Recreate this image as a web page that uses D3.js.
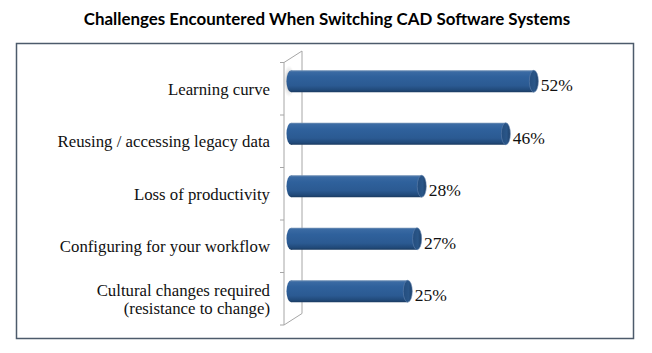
<!DOCTYPE html>
<html>
<head>
<meta charset="utf-8">
<script src="https://cdn.jsdelivr.net/npm/d3@7"></script>
<style>
  html, body { margin: 0; padding: 0; background: #ffffff; }
  svg { display: block; }
  .serif { font-family: "Liberation Serif", "Times New Roman", Times, serif; }
</style>
</head>
<body>
<svg id="chart" width="652" height="353"></svg>
<script>
const title = "Challenges Encountered When Switching CAD Software Systems";
const categories = [
  ["Learning curve"],
  ["Reusing / accessing legacy data"],
  ["Loss of productivity"],
  ["Configuring for your workflow"],
  ["Cultural changes required", "(resistance to change)"]
];
const values = [52, 46, 28, 27, 25];
const valueLabels = ["52%", "46%", "28%", "27%", "25%"];

(function () {
const svg = d3.select("#chart");

svg.append("rect")
  .attr("x", 16.5).attr("y", 43.5)
  .attr("width", 617).attr("height", 295)
  .attr("fill", "#fff")
  .attr("stroke", "#4d5b6b")
  .attr("stroke-width", 1.5);

const t = svg.append("text")
  .attr("x", 327).attr("y", 24.5)
  .attr("text-anchor", "middle")
  .style("font-family", "Lato, 'Open Sans', sans-serif")
  .attr("font-weight", "bold")
  .attr("font-size", 15)
  .attr("fill", "#000")
  .text(title);
const tl = t.node().getComputedTextLength();
t.attr("font-size", 15 * 487 / tl);

const idx = categories.map((d, i) => i);
const y = d3.scaleBand().domain(idx).range([62.5, 325]);
const x = d3.scaleLinear().domain([0, 60]).range([291, 291 + 4.67 * 60]);

const fx = 284, bx = 302, ddy = -11.5;
const yTop = y.range()[0], yBot = y.range()[1];
const g = svg.append("g").attr("stroke", "#a6a6a6").attr("stroke-width", 1).attr("fill", "none");
g.append("line").attr("x1", fx).attr("x2", fx).attr("y1", yTop).attr("y2", yBot);
g.append("line").attr("x1", bx).attr("x2", bx).attr("y1", yTop + ddy).attr("y2", yBot + ddy);
g.append("line").attr("x1", fx).attr("x2", bx).attr("y1", yTop).attr("y2", yTop + ddy);
g.append("line").attr("x1", fx).attr("x2", bx).attr("y1", yBot).attr("y2", yBot + ddy);
const bounds = idx.map(i => y(i)).concat([yBot]);
g.selectAll("line.tick").data(bounds).join("line")
  .attr("class", "tick")
  .attr("x1", fx - 4).attr("x2", fx)
  .attr("y1", d => d).attr("y2", d => d);

const defs = svg.append("defs");
const bodyGrad = defs.append("linearGradient").attr("id", "bodyGrad")
  .attr("x1", 0).attr("x2", 0).attr("y1", 0).attr("y2", 1);
[["0%", "#7090b5"], ["8%", "#3a6aa3"], ["30%", "#2f619c"], ["70%", "#2b5a92"], ["90%", "#214a7a"], ["100%", "#1a3a60"]]
  .forEach(([o, c]) => bodyGrad.append("stop").attr("offset", o).attr("stop-color", c));
const capGrad = defs.append("linearGradient").attr("id", "capGrad")
  .attr("x1", 0).attr("x2", 1).attr("y1", 0).attr("y2", 0);
[["0%", "#244d7e"], ["60%", "#2a5688"], ["100%", "#1d3f69"]]
  .forEach(([o, c]) => capGrad.append("stop").attr("offset", o).attr("stop-color", c));
const shadow = defs.append("radialGradient").attr("id", "shadowGrad");
shadow.append("stop").attr("offset", "0%").attr("stop-color", "#888").attr("stop-opacity", 0.8);
shadow.append("stop").attr("offset", "100%").attr("stop-color", "#bbb").attr("stop-opacity", 0);

const barH = 22, rx = 4.5, off = -7.5;
const bars = svg.append("g");
idx.forEach(i => {
  const cy = y(i) + y.bandwidth() / 2 + off;
  const x0 = x(0), x1 = x(values[i]);
  if (i === 0) {
    bars.append("ellipse").attr("cx", x0 - 2).attr("cy", cy).attr("rx", 6).attr("ry", barH / 2 + 5)
      .attr("fill", "url(#shadowGrad)");
  }
  bars.append("ellipse").attr("cx", x0).attr("cy", cy).attr("rx", rx).attr("ry", barH / 2)
    .attr("fill", "url(#bodyGrad)");
  bars.append("rect").attr("x", x0).attr("y", cy - barH / 2).attr("width", x1 - x0).attr("height", barH)
    .attr("fill", "url(#bodyGrad)");
  bars.append("ellipse").attr("cx", x1).attr("cy", cy).attr("rx", rx).attr("ry", barH / 2)
    .attr("fill", "url(#capGrad)").attr("stroke", "#5f82ad").attr("stroke-width", 0.6);
  svg.append("text")
    .attr("class", "serif")
    .attr("x", x1 + rx + 2.5).attr("y", cy + 4)
    .attr("dy", "0.35em")
    .attr("font-size", 17.5)
    .attr("fill", "#111")
    .text(valueLabels[i]);
});

idx.forEach(i => {
  const lines = categories[i];
  const cy = y(i) + y.bandwidth() / 2;
  const lh = 18;
  const txt = svg.append("text")
    .attr("class", "serif")
    .attr("text-anchor", "end")
    .attr("font-size", 16.8)
    .attr("fill", "#111");
  lines.forEach((ln, k) => {
    txt.append("tspan")
      .attr("x", 270)
      .attr("y", cy + (k - (lines.length - 1) / 2) * lh)
      .attr("dy", "0.35em")
      .text(ln);
  });
});
})();
</script>
</body>
</html>
